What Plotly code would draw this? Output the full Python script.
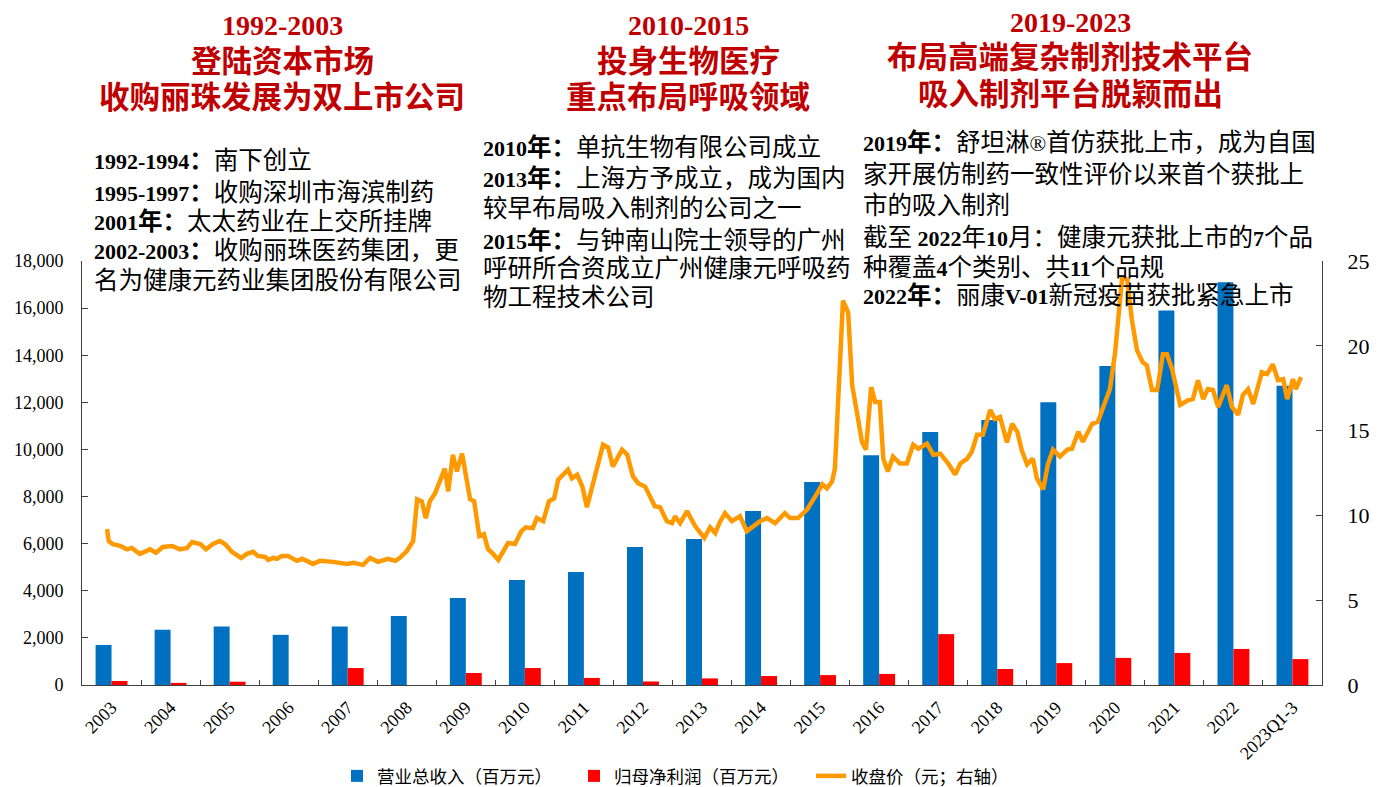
import plotly.graph_objects as go

# ---------------- data ----------------
categories = ["2003", "2004", "2005", "2006", "2007", "2008", "2009", "2010", "2011", "2012",
              "2013", "2014", "2015", "2016", "2017", "2018", "2019", "2020", "2021", "2022",
              "2023Q1-3"]
revenue = [1700, 2350, 2480, 2130, 2480, 2930, 3690, 4460, 4800, 5860,
           6200, 7390, 8620, 9750, 10740, 11250, 12000, 13540, 15900, 17100, 12700]
net_profit = [170, 90, 140, 0, 720, 0, 510, 720, 300, 150,
              280, 380, 420, 470, 2160, 680, 930, 1150, 1360, 1530, 1100]

price_time = [
    2003.00, 2003.03, 2003.10, 2003.23, 2003.35, 2003.43, 2003.57, 2003.75, 2003.85, 2003.97,
    2004.13, 2004.27, 2004.39, 2004.48, 2004.62, 2004.72, 2004.84, 2004.96, 2005.05, 2005.17,
    2005.33, 2005.43, 2005.54, 2005.62, 2005.75, 2005.80, 2005.89, 2005.95, 2006.04, 2006.15,
    2006.30, 2006.39, 2006.58, 2006.70, 2006.93, 2007.17, 2007.28, 2007.45, 2007.57, 2007.71,
    2007.88, 2008.01, 2008.09, 2008.21, 2008.32, 2008.39, 2008.47, 2008.54, 2008.61, 2008.70,
    2008.87, 2008.93, 2009.01, 2009.08, 2009.17, 2009.31, 2009.38, 2009.47, 2009.55, 2009.62,
    2009.71, 2009.80, 2009.97, 2010.09, 2010.20, 2010.28, 2010.40, 2010.47, 2010.58, 2010.68,
    2010.77, 2010.84, 2011.01, 2011.08, 2011.17, 2011.26, 2011.34, 2011.62, 2011.71, 2011.79,
    2011.95, 2012.04, 2012.14, 2012.23, 2012.35, 2012.52, 2012.61, 2012.73, 2012.82, 2012.87,
    2012.96, 2013.08, 2013.22, 2013.38, 2013.48, 2013.57, 2013.65, 2013.74, 2013.86, 2014.00,
    2014.12, 2014.35, 2014.47, 2014.61, 2014.78, 2014.87, 2015.01, 2015.17, 2015.34, 2015.43,
    2015.51, 2015.60, 2015.65, 2015.70, 2015.79, 2015.88, 2015.95, 2016.04, 2016.12, 2016.19,
    2016.28, 2016.35, 2016.43, 2016.49, 2016.57, 2016.66, 2016.78, 2016.90, 2017.01, 2017.10,
    2017.25, 2017.36, 2017.48, 2017.62, 2017.74, 2017.83, 2017.95, 2018.03, 2018.12, 2018.22,
    2018.35, 2018.43, 2018.52, 2018.64, 2018.73, 2018.82, 2018.90, 2018.99, 2019.09, 2019.16,
    2019.27, 2019.35, 2019.44, 2019.56, 2019.69, 2019.77, 2019.88, 2019.96, 2020.12, 2020.22,
    2020.31, 2020.43, 2020.52, 2020.64, 2020.73, 2020.81, 2020.90, 2021.00, 2021.07, 2021.16,
    2021.25, 2021.35, 2021.42, 2021.51, 2021.65, 2021.79, 2021.87, 2021.96, 2022.05, 2022.13,
    2022.22, 2022.31, 2022.46, 2022.55, 2022.66, 2022.74, 2022.83, 2022.92, 2023.07, 2023.16,
    2023.26, 2023.35, 2023.44, 2023.51, 2023.61, 2023.66, 2023.75,
]
close_price = [
    9.19, 8.49, 8.31, 8.20, 8.00, 8.08, 7.73, 8.00, 7.80, 8.14,
    8.20, 8.00, 8.08, 8.43, 8.31, 8.00, 8.31, 8.49, 8.31, 7.85,
    7.49, 7.73, 7.85, 7.61, 7.55, 7.38, 7.49, 7.44, 7.61, 7.61,
    7.32, 7.44, 7.14, 7.32, 7.26, 7.14, 7.20, 7.08, 7.49, 7.26,
    7.44, 7.32, 7.50, 7.90, 8.49, 10.95, 10.83, 9.84, 10.83, 11.30,
    12.76, 11.42, 13.58, 12.59, 13.64, 10.95, 10.83, 8.78, 8.90, 8.02,
    7.73, 7.38, 8.37, 8.31, 9.07, 9.30, 9.25, 9.84, 9.66, 10.83,
    11.00, 12.10, 12.70, 12.18, 12.40, 11.70, 10.48, 14.17, 14.00, 12.88,
    13.88, 13.58, 12.30, 11.90, 11.70, 10.54, 10.48, 9.66, 9.54, 9.95,
    9.54, 10.25, 9.37, 8.67, 9.30, 8.96, 9.60, 10.13, 9.66, 9.95,
    9.07, 9.66, 9.84, 9.54, 10.13, 9.84, 9.84, 10.36, 11.30, 11.83,
    11.59, 12.00, 12.76, 16.51, 22.66, 21.96, 17.68, 15.93, 14.34, 13.88,
    17.56, 16.69, 16.69, 13.35, 12.59, 13.47, 13.06, 13.06, 14.17, 13.93,
    14.23, 13.58, 13.64, 13.06, 12.41, 13.06, 13.35, 13.76, 14.75, 14.75,
    16.22, 15.69, 15.80, 14.30, 15.40, 14.93, 13.80, 13.00, 13.35, 12.18,
    11.53, 13.00, 13.88, 13.47, 13.88, 13.93, 14.93, 14.34, 15.40, 15.52,
    16.39, 17.45, 19.61, 24.00, 23.90, 21.55, 19.73, 19.03, 18.85, 17.39,
    17.39, 19.50, 19.50, 18.62, 16.51, 16.80, 16.86, 17.97, 16.86, 17.45,
    17.39, 16.39, 17.68, 16.39, 15.93, 17.10, 17.45, 16.57, 18.44, 18.33,
    18.91, 17.97, 18.03, 16.86, 18.03, 17.45, 18.15,
]

series_names = ["营业总收入（百万元）", "归母净利润（百万元）", "收盘价（元；右轴）"]

title_blocks = [
    ["1992-2003", "登陆资本市场", "收购丽珠发展为双上市公司"],
    ["2010-2015", "投身生物医疗", "重点布局呼吸领域"],
    ["2019-2023", "布局高端复杂制剂技术平台", "吸入制剂平台脱颖而出"],
]
note_blocks = [
    ["<b>1992-1994：</b>南下创立",
     "<b>1995-1997：</b>收购深圳市海滨制药",
     "<b>2001年：</b>太太药业在上交所挂牌",
     "<b>2002-2003：</b>收购丽珠医药集团，更",
     "名为健康元药业集团股份有限公司"],
    ["<b>2010年：</b>单抗生物有限公司成立",
     "<b>2013年：</b>上海方予成立，成为国内",
     "较早布局吸入制剂的公司之一",
     "<b>2015年：</b>与钟南山院士领导的广州",
     "呼研所合资成立广州健康元呼吸药",
     "物工程技术公司"],
    ["<b>2019年：</b>舒坦淋®首仿获批上市，成为自国",
     "家开展仿制药一致性评价以来首个获批上",
     "市的吸入制剂",
     "截至 <b>2022</b>年<b>10</b>月：健康元获批上市的<b>7</b>个品",
     "种覆盖<b>4</b>个类别、共<b>11</b>个品规",
     "<b>2022年：</b>丽康<b>V-01</b>新冠疫苗获批紧急上市"],
]

# ---------------- layout geometry ----------------
# The page body has an 8px margin, so the figure is drawn offset by 8px.
OFF = 8
W, H = 1390 - OFF, 787 - OFF
L, R, T, B = 82 - OFF, 1322 - OFF, 261 - OFF, 685 - OFF
SERIF = "Liberation Serif, Noto Sans CJK SC, serif"


def px(x):
    """screen x (reference pixels) -> paper fraction"""
    return (x - OFF - L) / (R - L)


def py(y):
    """screen y (reference pixels) -> paper fraction"""
    return (B - (y - OFF)) / (B - T)


def cjk_size(text, size):
    """Wrap runs of CJK characters (outside tags) in a larger font-size span."""
    out, run, in_tag = [], "", False

    def flush():
        nonlocal run
        if run:
            out.append('<span style="font-size:%spx">%s</span>' % (size, run))
            run = ""

    for ch in text:
        if in_tag:
            out.append(ch)
            if ch == ">":
                in_tag = False
            continue
        if ch == "<":
            flush()
            in_tag = True
            out.append(ch)
            continue
        if ord(ch) >= 0x2E80:
            run += ch
        else:
            flush()
            out.append(ch)
    flush()
    return "".join(out)


fig = go.Figure()
fig.add_trace(go.Bar(x=categories, y=revenue, name=series_names[0],
                     marker=dict(color="#0070C0", line=dict(width=0))))
fig.add_trace(go.Bar(x=categories, y=net_profit, name=series_names[1],
                     marker=dict(color="#FF0000", line=dict(width=0))))
fig.add_trace(go.Scatter(x=price_time, y=close_price, name=series_names[2],
                         mode="lines", line=dict(color="#FF9900", width=4.5),
                         xaxis="x2", yaxis="y2"))

annotations = []
title_x = [282, 688, 1070]
title_y = [[25, 62, 98], [25, 62, 98], [23, 58, 94]]
for bx, ys, lines in zip(title_x, title_y, title_blocks):
    for yy, txt in zip(ys, lines):
        annotations.append(dict(
            x=px(bx), y=py(yy), xref="paper", yref="paper", xanchor="center", yanchor="middle",
            text="<b>" + cjk_size(txt, 30.5) + "</b>", showarrow=False, borderpad=0,
            font=dict(family=SERIF, size=28, color="#C00000")))

note_x = [93, 482, 862]
note_y = [[161, 192, 222, 251, 280],
          [148, 178, 208, 240, 268, 297],
          [143, 174, 205, 237, 267, 295]]
for bx, ys, lines in zip(note_x, note_y, note_blocks):
    for yy, txt in zip(ys, lines):
        annotations.append(dict(
            x=px(bx), y=py(yy), xref="paper", yref="paper", xanchor="left", yanchor="middle",
            text=cjk_size(txt, 24.5), showarrow=False, borderpad=0,
            font=dict(family=SERIF, size=22, color="#000000")))

fig.update_layout(
    width=W, height=H,
    margin=dict(l=L, r=W - R, t=T, b=H - B, pad=0, autoexpand=False),
    paper_bgcolor="white", plot_bgcolor="white",
    barmode="group", bargap=0.46, bargroupgap=0,
    font=dict(family=SERIF, color="#000000"),
    showlegend=True,
    legend=dict(orientation="h", x=px(337), xanchor="left", y=py(776), yanchor="middle",
                font=dict(family="Noto Sans CJK SC, sans-serif", size=17.5, color="#000000"),
                itemwidth=30, entrywidth=192, entrywidthmode="pixels",
                traceorder="normal"),
    xaxis=dict(type="category", range=[-0.5, 20.5], showgrid=False, zeroline=False,
               automargin=False,
               showline=True, linecolor="#404040", linewidth=1,
               ticks="inside", tickson="boundaries", ticklen=5, tickcolor="#404040",
               tickangle=-45, ticklabelstandoff=4,
               tickfont=dict(family=SERIF, size=18, color="#000000")),
    xaxis2=dict(overlaying="x", range=[2002.565, 2024.115], visible=False,
                showgrid=False, zeroline=False, automargin=False),
    yaxis=dict(range=[0, 18000], dtick=2000, tickformat=",", showgrid=False, zeroline=False,
               automargin=False,
               showline=True, linecolor="#404040", linewidth=1,
               ticks="inside", ticklen=6, tickcolor="#404040", ticklabelstandoff=14,
               tickfont=dict(family=SERIF, size=18, color="#000000")),
    yaxis2=dict(overlaying="y", side="right", range=[0, 25], dtick=5, showgrid=False,
                zeroline=False, automargin=False, showline=True, linecolor="#404040", linewidth=1,
                ticks="inside", ticklen=6, tickcolor="#404040", ticklabelstandoff=20,
                tickfont=dict(family=SERIF, size=22, color="#000000")),
    annotations=annotations,
)

fig.write_html("out.html")
